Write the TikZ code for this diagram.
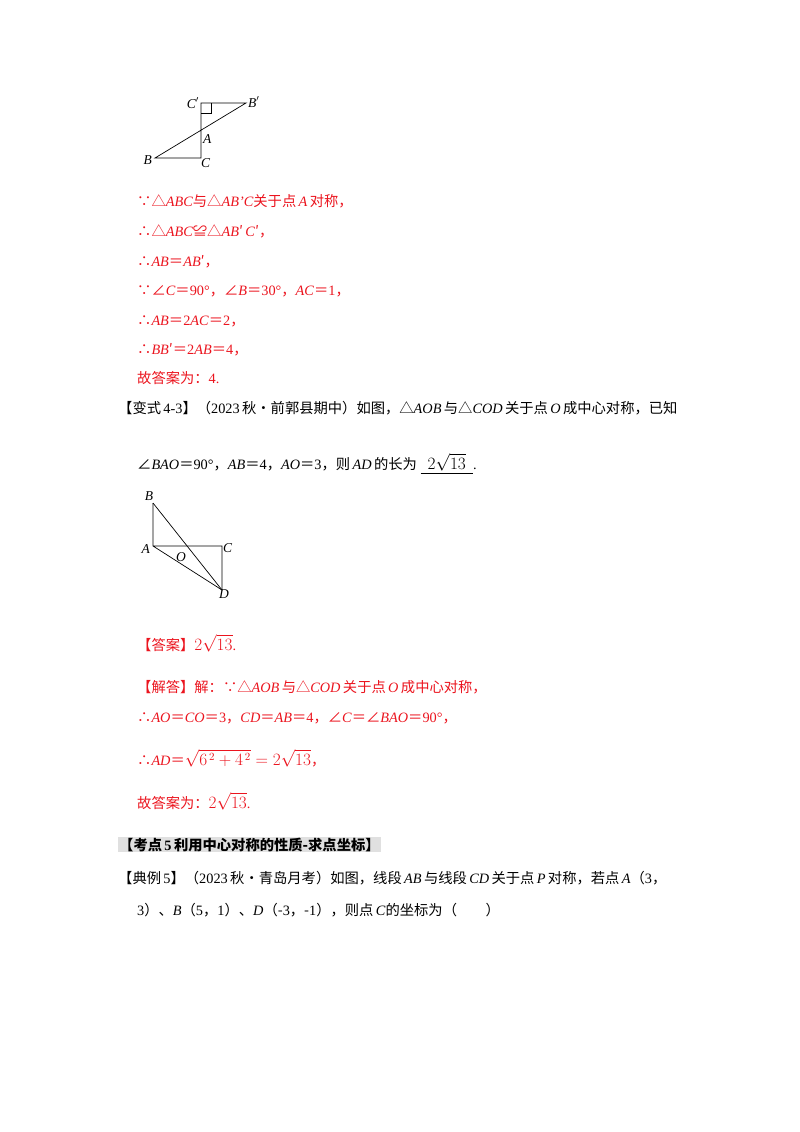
\documentclass[tikz,border=0pt]{standalone}
\usepackage{fontspec}
\setmainfont{Liberation Serif}
\newfontfamily\zhf{Noto Sans CJK SC}
\newcommand\zh[1]{{\zhf #1}}
\newcommand\iv[1]{\textit{#1}}
\newcommand\sq[1]{{\fontsize{16}{18}\selectfont$#1$}}
\definecolor{ansred}{RGB}{235,20,30}
\begin{document}
\begin{tikzpicture}[x=1pt,y=-1pt,
  txt/.style={anchor=base west,inner sep=0pt,font=\fontsize{14.3}{16}\selectfont},
  red/.style={txt,text=ansred},
  lbl/.style={inner sep=1pt,font=\fontsize{13.5}{15}\selectfont\itshape},
  fig/.style={line width=0.7pt}]
\useasboundingbox (0,0) rectangle (800,1132);
% figure 1
\coordinate (C1) at (201,103); \coordinate (B1) at (246,103);
\coordinate (C) at (201,158); \coordinate (B) at (155,158);
\draw[fig] (B) -- (C) -- (C1) -- (B1) -- cycle;
\draw[fig] (C1) ++(0,10) -- ++(10,0) -- ++(0,-10);
\node[lbl,anchor=east] (lc1) at (200,103) {C$'$};
\node[lbl,anchor=west] (lb1) at (247,102) {B$'$};
\node[lbl,anchor=north west] (la) at (202,133) {A};
\node[lbl,anchor=north west] (lc) at (200,157) {C};
\node[lbl,anchor=east] (lb) at (153,160) {B};
% text block 1
\node[red] (t1) at (137,206) {\zh{∵△}\iv{ABC}\zh{与△}\iv{AB'C}\zh{关于点}\,\iv{A}\,\zh{对称，}};
\node[red] (t2) at (137,236) {\zh{∴△}\iv{ABC}\zh{≌△}\iv{AB}\zh{′}\,\iv{C}\zh{′，}};
\node[red] (t3) at (137,266) {\zh{∴}\iv{AB}\zh{＝}\iv{AB}\zh{′，}};
\node[red] (t4) at (137,295) {\zh{∵∠}\iv{C}\zh{＝}90°\zh{，∠}\iv{B}\zh{＝}30°\zh{，}\iv{AC}\zh{＝}1\zh{，}};
\node[red] (t5) at (137,325) {\zh{∴}\iv{AB}\zh{＝}2\iv{AC}\zh{＝}2\zh{，}};
\node[red] (t6) at (137,354) {\zh{∴}\iv{BB}\zh{′＝}2\iv{AB}\zh{＝}4\zh{，}};
\node[red] (t7) at (137,383) {\zh{故答案为：}4.};
\node[txt] (t8) at (118,413) {\zh{【变式}\,4-3\zh{】（}2023\,\zh{秋•前郭县期中）如图，△}\iv{AOB}\,\zh{与△}\iv{COD}\,\zh{关于点}\,\iv{O}\,\zh{成中心对称，已知}};
\node[txt] (t9) at (137,469) {\zh{∠}\iv{BAO}\zh{＝}90°\zh{，}\iv{AB}\zh{＝}4\zh{，}\iv{AO}\zh{＝}3\zh{，则}\,\iv{AD}\,\zh{的长为}\ \underline{\ \ \sq{2\sqrt{13}}\ \ }.};
% figure 2
\coordinate (B2) at (153,503); \coordinate (A2) at (153,546);
\coordinate (C2) at (222,546); \coordinate (D2) at (222,590);
\draw[fig] (B2) -- (A2) -- (C2) -- (D2) -- (A2);
\draw[fig] (B2) -- (D2);
\node[lbl,anchor=south] (lB2) at (149,502) {B};
\node[lbl,anchor=east] (lA2) at (151,549) {A};
\node[lbl,anchor=west] (lC2) at (222,548) {C};
\node[lbl,anchor=north west] (lD2) at (218,588) {D};
\node[lbl] (lO2) at (181,557) {O};
% text block 2
\node[red] (t10) at (137,650) {\zh{【答案】}\sq{2\sqrt{13}}.};
\node[red] (t11) at (137,692) {\zh{【解答】解：∵△}\iv{AOB}\,\zh{与△}\iv{COD}\,\zh{关于点}\,\iv{O}\,\zh{成中心对称，}};
\node[red] (t12) at (137,722) {\zh{∴}\iv{AO}\zh{＝}\iv{CO}\zh{＝}3\zh{，}\iv{CD}\zh{＝}\iv{AB}\zh{＝}4\zh{，∠}\iv{C}\zh{＝∠}\iv{BAO}\zh{＝}90°\zh{，}};
\node[red] (t13) at (137,765) {\zh{∴}\iv{AD}\zh{＝}\sq{\sqrt{6^{\,2}+4^{\,2}}=2\sqrt{13}}\zh{，}};
\node[red] (t14) at (137,808) {\zh{故答案为：}\sq{2\sqrt{13}}.};
\node[txt,fill=black!12,inner sep=1pt,font=\fontsize{14.3}{16}\selectfont\bfseries] (t15) at (118,850) {\zh{\bfseries 【考点}\,5\,\zh{\bfseries 利用中心对称的性质-求点坐标】}};
\node[txt] (t16) at (118,883) {\zh{【典例}\,5\zh{】（}2023\,\zh{秋•青岛月考）如图，线段}\,\iv{AB}\,\zh{与线段}\,\iv{CD}\,\zh{关于点}\,\iv{P}\,\zh{对称，若点}\,\iv{A}\zh{（}3\zh{，}};
\node[txt] (t17) at (137,915) {3\zh{）、}\iv{B}\zh{（}5\zh{，}1\zh{）、}\iv{D}\zh{（-}3\zh{，-}1\zh{），则点}\,\iv{C}\zh{的坐标为（\quad\quad）}};
\end{tikzpicture}
\end{document}
